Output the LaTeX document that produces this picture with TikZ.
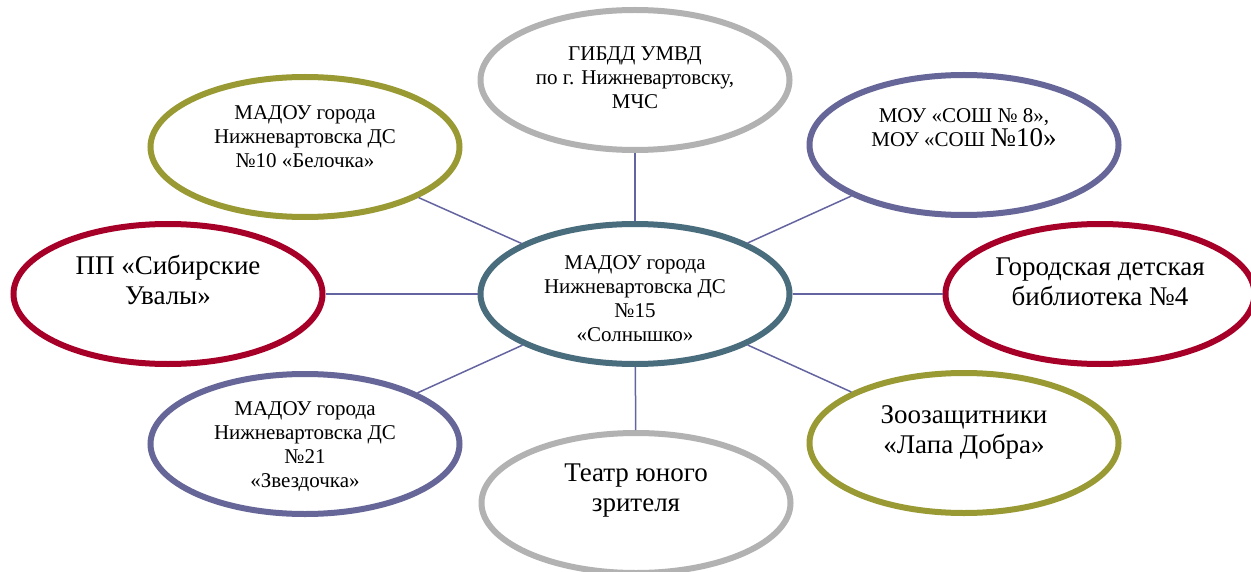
\documentclass[tikz,border=0pt]{standalone}
\usepackage{fontspec}
\setmainfont{Liberation Serif}
\newfontfamily\timesru{Liberation Serif}
\usetikzlibrary{shapes.geometric}

\definecolor{hubblue}{RGB}{74,109,126}
\definecolor{ringgray}{RGB}{178,178,178}
\definecolor{ringolive}{RGB}{154,154,52}
\definecolor{ringviolet}{RGB}{102,102,153}
\definecolor{ringred}{RGB}{166,0,40}
\definecolor{linkviolet}{RGB}{100,100,160}

\tikzset{
  ring/.style={draw=#1, ellipse, line width=3pt, fill=white,
    minimum width=154.5pt, minimum height=70pt, inner sep=0pt},
  smalltext/.style={align=center, font=\timesru\fontsize{10.5}{12}\selectfont, inner sep=0pt},
  bigtext/.style={align=center, font=\timesru\fontsize{13.5}{15}\selectfont, inner sep=0pt},
  link/.style={draw=linkviolet, line width=0.75pt}
}

\begin{document}
\begin{tikzpicture}[x=0.5pt, y=-0.5pt]
  \useasboundingbox (0,0) rectangle (1251,572);

  % --- Centre ellipse ---
  \node[ring=hubblue] (hub) at (635,294) {};
  \node[smalltext] (hub-text) at (635,299) {МАДОУ города\\Нижневартовска ДС\\№15\\«Солнышко»};

  % --- Top ellipse ---
  \node[ring=ringgray] (gibdd) at (635,80) {};
  \node[smalltext] (gibdd-text) at (635,78) {ГИБДД УМВД\\по г. Нижневартовску,\\МЧС};

  % --- Top left ellipse ---
  \node[ring=ringolive] (madou10) at (305,147) {};
  \node[smalltext] (madou10-text) at (305,137) {МАДОУ города\\Нижневартовска ДС\\№10 «Белочка»};

  % --- Top right ellipse ---
  \node[ring=ringviolet] (sosh) at (964,145) {};
  \node[smalltext] (sosh-text) at (964,128) {МОУ «СОШ № 8»,\\МОУ «СОШ {\fontsize{13.5}{15}\selectfont №10»}};

  % --- Left ellipse ---
  \node[ring=ringred] (uvaly) at (168,294) {};
  \node[bigtext] (uvaly-text) at (168,280) {ПП «Сибирские\\Увалы»};

  % --- Right ellipse ---
  \node[ring=ringred] (library) at (1100,294) {};
  \node[bigtext] (library-text) at (1100,282) {Городская детская\\библиотека №4};

  % --- Bottom left ellipse ---
  \node[ring=ringviolet] (madou21) at (305,444) {};
  \node[smalltext] (madou21-text) at (305,447) {МАДОУ города\\Нижневартовска ДС\\№21\\«Звездочка»};

  % --- Bottom ellipse ---
  \node[ring=ringgray] (theatre) at (636,503) {};
  \node[bigtext] (theatre-text) at (636,491) {Театр юного\\зрителя};

  % --- Bottom right ellipse ---
  \node[ring=ringolive] (zoo) at (964,443) {};
  \node[bigtext] (zoo-text) at (964,432) {Зоозащитники\\«Лапа Добра»};

  % --- Connectors ---
  \draw[link] (hub) -- (gibdd);
  \draw[link] (hub) -- (madou10);
  \draw[link] (hub) -- (sosh);
  \draw[link] (hub) -- (uvaly);
  \draw[link] (hub) -- (library);
  \draw[link] (hub) -- (madou21);
  \draw[link] (hub) -- (theatre);
  \draw[link] (hub) -- (zoo);

\end{tikzpicture}
\end{document}
